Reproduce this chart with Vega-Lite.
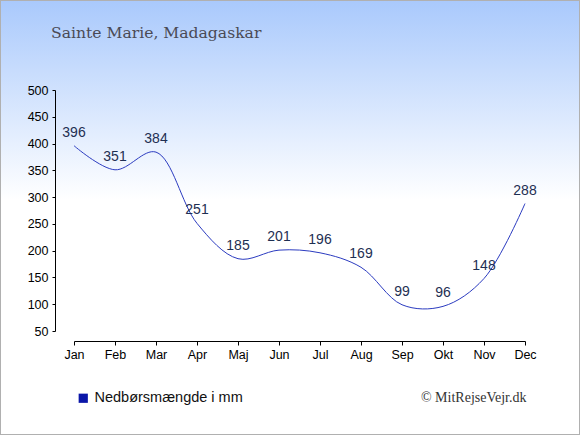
{
  "$schema": "https://vega.github.io/schema/vega-lite/v6.json",
  "width": 580,
  "height": 435,
  "autosize": "none",
  "padding": 0,
  "background": "white",
  "title": {
    "text": "Sainte Marie, Madagaskar",
    "anchor": "start",
    "frame": "group",
    "font": "DejaVu Serif",
    "fontSize": 15.6,
    "fontWeight": "normal",
    "color": "#4a4a55",
    "baseline": "alphabetic",
    "offset": 0,
    "dx": 51,
    "dy": 54
  },
  "config": {
    "view": {
      "fill": {"expr": "{gradient: 'linear', x1: 0, y1: 0, x2: 0, y2: 1, stops: [{offset: 0, color: '#a9c9fc'}, {offset: 0.46, color: '#ffffff'}, {offset: 1, color: '#ffffff'}]}"},
      "stroke": "#b0b0b0",
      "strokeWidth": 2
    },
    "axis": {
      "labelFont": "Liberation Sans",
      "labelFontSize": 12.5,
      "labelColor": "#000000",
      "domainColor": "#000000",
      "tickColor": "#000000",
      "grid": false
    }
  },
  "data": {
    "values": [
      {"month": "Jan", "mm": 396},
      {"month": "Feb", "mm": 351},
      {"month": "Mar", "mm": 384},
      {"month": "Apr", "mm": 251},
      {"month": "Maj", "mm": 185},
      {"month": "Jun", "mm": 201},
      {"month": "Jul", "mm": 196},
      {"month": "Aug", "mm": 169},
      {"month": "Sep", "mm": 99},
      {"month": "Okt", "mm": 96},
      {"month": "Nov", "mm": 148},
      {"month": "Dec", "mm": 288}
    ]
  },
  "encoding": {
    "x": {
      "field": "month",
      "type": "ordinal",
      "sort": null,
      "scale": {"type": "point", "range": [74, 525], "padding": 0},
      "axis": {
        "orient": "bottom",
        "offset": -94,
        "labelAngle": 0,
        "tickSize": 4,
        "labelPadding": 3,
        "title": "© MitRejseVejr.dk",
        "titleFont": "Liberation Serif",
        "titleFontSize": 14,
        "titleFontWeight": "normal",
        "titleColor": "#333333",
        "titleAnchor": "end",
        "titleAlign": "right",
        "titleBaseline": "middle",
        "titleX": 526,
        "titleY": 56
      }
    },
    "y": {
      "field": "mm",
      "type": "quantitative",
      "scale": {"domain": [50, 500], "range": [331, 90], "nice": false, "zero": false},
      "axis": {
        "orient": "left",
        "offset": -55,
        "values": [50, 100, 150, 200, 250, 300, 350, 400, 450, 500],
        "tickSize": 3,
        "labelPadding": 4,
        "title": null
      }
    }
  },
  "layer": [
    {
      "mark": {"type": "line", "interpolate": "catmull-rom", "strokeWidth": 1},
      "encoding": {
        "color": {
          "datum": "Nedbørsmængde i mm",
          "type": "nominal",
          "scale": {"range": ["#2b3bc0"]},
          "legend": {
            "title": null,
            "orient": "none",
            "legendX": 76,
            "legendY": 391,
            "padding": 0,
            "symbolType": "square",
            "symbolSize": 85,
            "labelFont": "Liberation Sans",
            "labelFontSize": 14.5,
            "labelColor": "#111111",
            "labelOffset": 4,
            "encode": {
              "symbols": {"update": {"fill": {"value": "#0a16a8"}, "stroke": {"value": "#0a16a8"}, "strokeWidth": {"value": 0}}}
            }
          }
        }
      }
    },
    {
      "mark": {
        "type": "text",
        "dy": -9,
        "baseline": "alphabetic",
        "font": "Liberation Sans",
        "fontSize": 14,
        "color": "#1e2f52"
      },
      "encoding": {"text": {"field": "mm", "type": "quantitative"}}
    }
  ]
}
